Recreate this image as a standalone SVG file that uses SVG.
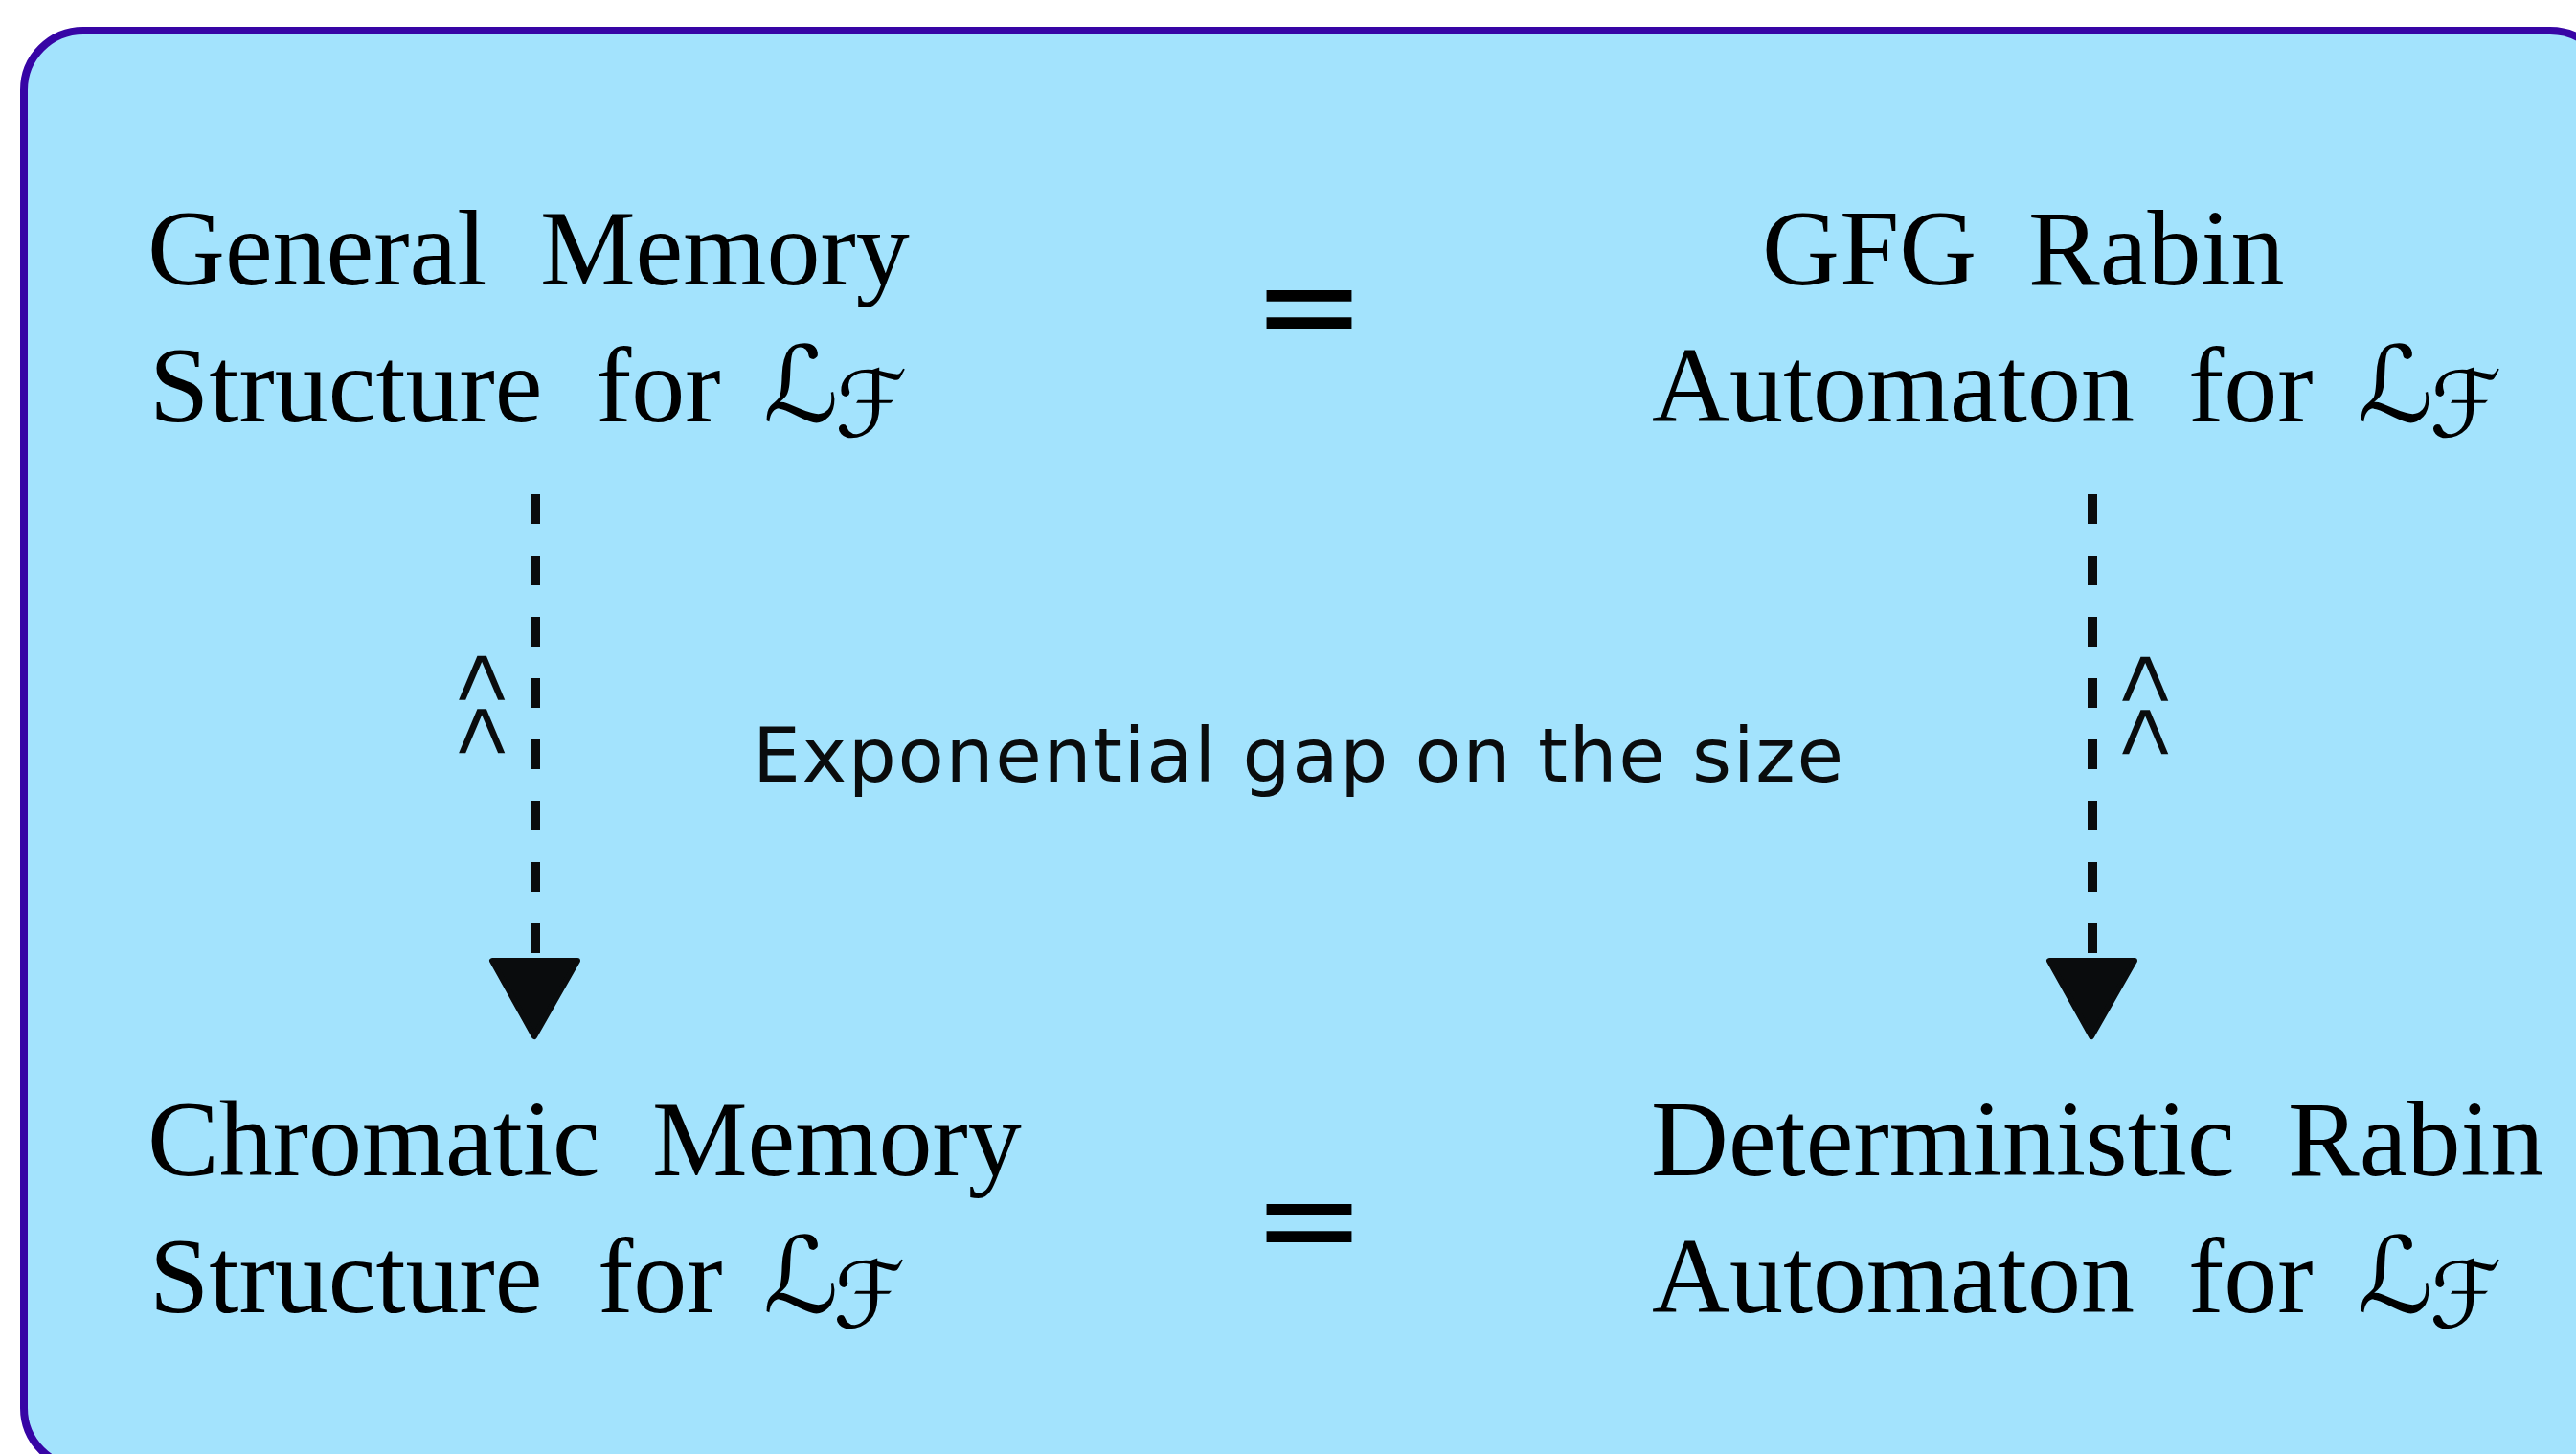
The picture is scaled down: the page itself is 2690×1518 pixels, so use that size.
<svg xmlns="http://www.w3.org/2000/svg" width="2690" height="1518" viewBox="0 0 2690 1518">
  <style>
    .lbl { font-family: "Liberation Serif", "Times New Roman", serif; font-size: 112px; fill: #000; }
    .cal { font-family: "DejaVu Serif", "DejaVu Sans", serif; font-size: 110px; fill: #000; }
    .sub { font-family: "DejaVu Serif", "DejaVu Sans", serif; font-size: 96px; fill: #000; }
    .eq { font-family: "DejaVu Sans", sans-serif; font-size: 142px; fill: #000; text-anchor: middle; }
    .gap { font-family: "DejaVu Sans", sans-serif; font-size: 79px; fill: #0a0c0d; }
    .caret { font-family: "Liberation Sans", Arial, sans-serif; font-size: 95px; fill: #0a0c0d; }
    .dash { stroke: #0a0c0d; stroke-width: 10; stroke-dasharray: 31 33; fill: none; }
    .head { fill: #0a0c0d; stroke: #0a0c0d; stroke-width: 6; stroke-linejoin: round; }
  </style>
  <rect id="frame" x="25" y="32" width="2700" height="1500" rx="62" ry="62" fill="#a3e3fd" stroke="#3705a5" stroke-width="8"/>

  <g id="connectors">
    <line class="dash" x1="559" y1="516" x2="559" y2="995"/>
    <polygon class="head" points="514,1003 603,1003 558,1082"/>
    <line class="dash" x1="2185" y1="516" x2="2185" y2="995"/>
    <polygon class="head" points="2140,1003 2229,1003 2184,1082"/>
    <text class="caret" transform="translate(472,680) rotate(90)">&lt;&lt;</text>
    <text class="caret" transform="translate(2209,681) rotate(90)">&lt;&lt;</text>
  </g>

  <g id="node-general-memory">
    <text class="lbl" y="297"><tspan x="154">General</tspan><tspan x="564">Memory</tspan></text>
    <text class="lbl" y="440"><tspan x="156">Structure</tspan><tspan x="622">for</tspan></text>
    <text class="cal" x="797" y="440">ℒ</text>
    <text class="sub" x="872" y="456">ℱ</text>
  </g>

  <g id="node-gfg-rabin">
    <text class="lbl" y="297"><tspan x="1840">GFG</tspan><tspan x="2118">Rabin</tspan></text>
    <text class="lbl" y="440"><tspan x="1725">Automaton</tspan><tspan x="2285">for</tspan></text>
    <text class="cal" x="2462" y="440">ℒ</text>
    <text class="sub" x="2537" y="456">ℱ</text>
  </g>

  <g id="node-chromatic-memory">
    <text class="lbl" y="1227"><tspan x="154">Chromatic</tspan><tspan x="681">Memory</tspan></text>
    <text class="lbl" y="1370"><tspan x="156">Structure</tspan><tspan x="624">for</tspan></text>
    <text class="cal" x="797" y="1370">ℒ</text>
    <text class="sub" x="870" y="1386">ℱ</text>
  </g>

  <g id="node-deterministic-rabin">
    <text class="lbl" y="1227"><tspan x="1724">Deterministic</tspan><tspan x="2389">Rabin</tspan></text>
    <text class="lbl" y="1370"><tspan x="1725">Automaton</tspan><tspan x="2285">for</tspan></text>
    <text class="cal" x="2462" y="1370">ℒ</text>
    <text class="sub" x="2537" y="1386">ℱ</text>
  </g>

  <g id="equals-top"><text class="eq" x="1367" y="368">=</text></g>
  <g id="equals-bottom"><text class="eq" x="1367" y="1322">=</text></g>

  <g id="gap-label">
    <text class="gap" x="786" y="816" textLength="1139" lengthAdjust="spacing">Exponential gap on the size</text>
  </g>
</svg>
